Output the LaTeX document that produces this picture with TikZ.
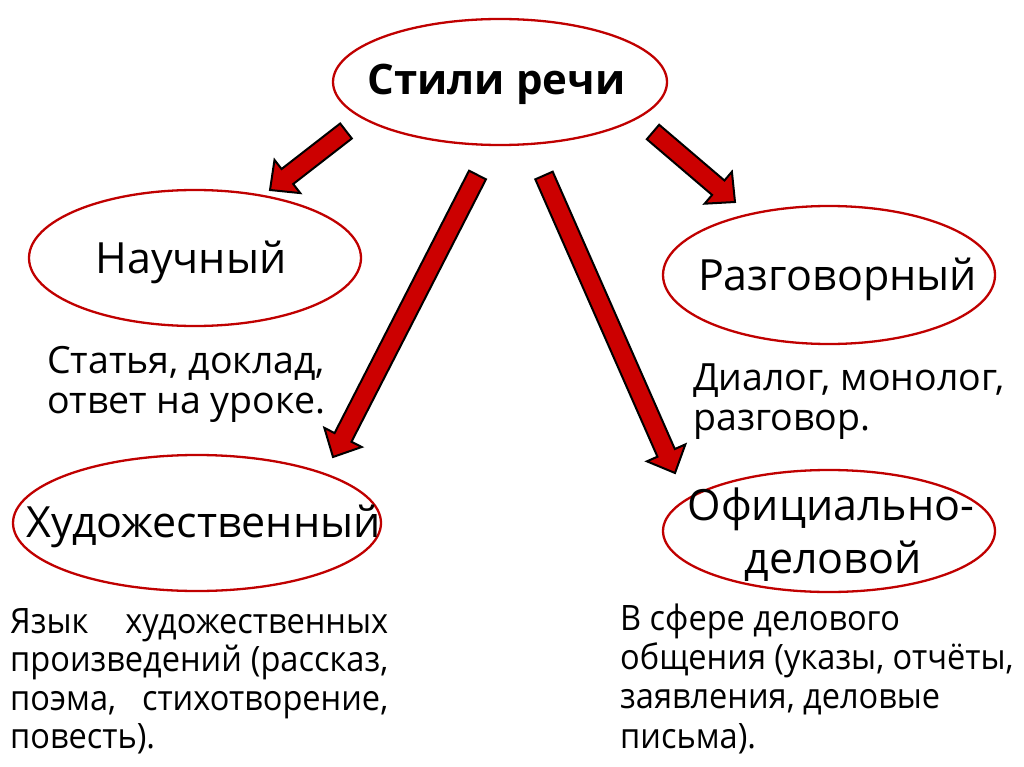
\documentclass[tikz,border=0pt]{standalone}
\usepackage{fontspec}
\setmainfont{Open Sans}
\newfontfamily\narrowfont{Open Sans}[FakeStretch=0.93]
\usetikzlibrary{shapes.geometric,calc}
\definecolor{ellred}{HTML}{C00000}
\definecolor{arrred}{HTML}{CC0000}
\tikzset{
  ell/.style={ellipse, draw=ellred, line width=2.3pt, inner sep=0pt},
  title/.style={font=\fontsize{43}{50}\selectfont, inner sep=0pt},
  body/.style={font=\fontsize{37.5}{40}\selectfont, inner sep=0pt, align=left},
  barrow/.style={fill=arrred, draw=black, line width=2pt, line join=miter}
}
\newcommand\blockarr[2]{%
  \coordinate (bh) at ($(#2)!22pt!(#1)$);
  \draw[barrow] ($(#1)!9.5pt!90:(#2)$) -- ($(bh)!9.5pt!-90:(#1)$) -- ($(bh)!21pt!-90:(#1)$) -- (#2) -- ($(bh)!21pt!90:(#1)$) -- ($(bh)!9.5pt!90:(#1)$) -- ($(#1)!9.5pt!-90:(#2)$) -- cycle;}
\begin{document}
\begin{tikzpicture}[x=1pt,y=-1pt]
\useasboundingbox[fill=white] (0,0) rectangle (1024,767);
% ellipses
\node[ell, minimum width=334pt, minimum height=126pt] (topE) at (500,82) {};
\node[ell, minimum width=332pt, minimum height=136pt] (nauchE) at (195,258) {};
\node[ell, minimum width=332pt, minimum height=138pt] (razgE) at (829,275) {};
\node[ell, minimum width=368pt, minimum height=136pt] (hudE) at (197,523) {};
\node[ell, minimum width=332pt, minimum height=122pt] (ofiE) at (829,531) {};
% titles
\node[title, font=\fontsize{42}{50}\selectfont\bfseries, anchor=base] (top) at (496.5,95) {Стили речи};
\node[title, anchor=base] (nauch) at (191,273) {Научный};
\node[title, anchor=base] (razg) at (837.5,290) {Разговорный};
\node[title, anchor=base] (hud) at (203.5,537) {Художественный};
\node[title, anchor=base] (ofi1) at (831,520) {Официально-};
\node[title, anchor=base] (ofi2) at (833,573) {деловой};
% body texts (base anchor = last line baseline)
\node[body, anchor=base west] (nauchT) at (47,413) {Статья, доклад,\\ответ на уроке.};
\node[body, anchor=base west] (razgT) at (693,430) {Диалог, монолог,\\разговор.};
\node[body, anchor=base west, text width=378pt, align=justify, font=\fontsize{35}{38.5}\selectfont\narrowfont] (hudT) at (10,633) {Язык художественных\linebreak произведений (рассказ,\linebreak поэма, стихотворение,\linebreak повесть).};
\node[body, anchor=base west, font=\fontsize{35}{39.3}\selectfont\narrowfont] (ofiT) at (620,748) {В сфере делового\\общения (указы, отчёты,\\заявления, деловые\\письма).};
% arrows
\coordinate (a1s) at (346,131); \coordinate (a1e) at (270,190);
\coordinate (a2s) at (477.5,175); \coordinate (a2e) at (333,457);
\coordinate (a3s) at (544,175.5); \coordinate (a3e) at (675,473);
\coordinate (a4s) at (653,132); \coordinate (a4e) at (735,202);
\blockarr{a1s}{a1e}
\blockarr{a2s}{a2e}
\blockarr{a3s}{a3e}
\blockarr{a4s}{a4e}
\end{tikzpicture}
\end{document}
